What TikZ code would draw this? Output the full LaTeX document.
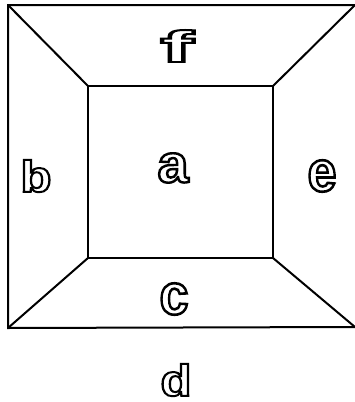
\documentclass[tikz,border=0pt]{standalone}
\usepackage{fontspec}
\setmainfont{Liberation Sans}
\tikzset{x=1pt,y=-1pt,
  edge/.style={line width=2pt, line cap=round},
  lbl/.style={font=\fontsize{20}{22}\selectfont\bfseries, inner sep=0pt}}
\newcommand{\olet}[3]{\resizebox{#1pt}{#2pt}{\special{pdf:literal 1 Tr 0.9 w}#3\special{pdf:literal 0 Tr}}}
\begin{document}
\begin{tikzpicture}
\useasboundingbox (0,0) rectangle (355,402);
\coordinate (o1) at (8,5);
\coordinate (o2) at (355,5);
\coordinate (o3) at (355,327);
\coordinate (o4) at (8,328);
\coordinate (i1) at (88,86);
\coordinate (i2) at (273,86);
\coordinate (i3) at (273,258);
\coordinate (i4) at (88,258);
\draw[edge] (o2) -- (o1) -- (o4) -- (o3);
\draw[edge] (i1) -- (i2) -- (i3) -- (i4) -- cycle;
\draw[edge] (o1) -- (i1);
\draw[edge] (o2) -- (i2);
\draw[edge] (o3) -- (i3);
\draw[edge] (o4) -- (i4);
\node[lbl] (f) at (177,46) {\olet{33}{32}{f}};
\node[lbl] (a) at (173,168) {\olet{31}{29}{a}};
\node[lbl] (b) at (36,176) {\olet{31}{32}{b}};
\node[lbl] (e) at (322,176) {\olet{29}{31}{e}};
\node[lbl] (c) at (174,299) {\olet{29}{31}{c}};
\node[lbl] (d) at (176,380) {\olet{31}{32}{d}};
\end{tikzpicture}
\end{document}
